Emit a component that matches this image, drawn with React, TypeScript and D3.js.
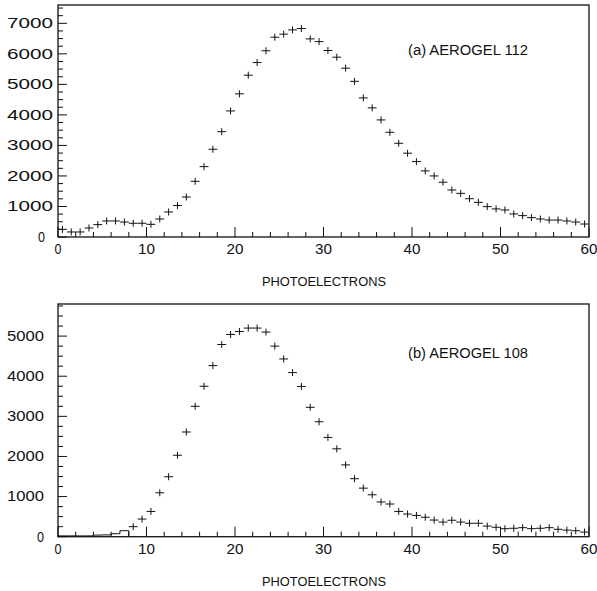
import React from "react";
import * as d3 from "d3";

// ---- data (counts per 1-photoelectron bin, 0..60) ----
const topValues = [
  250, 165, 165, 295, 405, 525, 525, 490, 450, 450,
  415, 590, 820, 1030, 1310, 1825, 2305, 2875, 3450, 4130,
  4690, 5300, 5715, 6100, 6545, 6645, 6785, 6830, 6490, 6400,
  6110, 5890, 5530, 5100, 4555, 4230, 3835, 3430, 3070, 2745,
  2470, 2165, 2000, 1795, 1540, 1430, 1255, 1135, 995, 920,
  885, 755, 700, 635, 590, 555, 555, 525, 490, 425,
];
const bottomValues = [
  20, 20, 20, 20, 40, 45, 75, 150, 250, 440,
  630, 1095, 1495, 2030, 2610, 3250, 3750, 4265, 4790, 5040,
  5115, 5200, 5200, 5100, 4750, 4430, 4090, 3745, 3225, 2865,
  2475, 2190, 1790, 1445, 1210, 1045, 865, 815, 630, 565,
  530, 485, 415, 365, 410, 365, 335, 335, 265, 235,
  200, 210, 225, 200, 210, 225, 185, 165, 150, 115,
];
const xTickLabels = [0, 10, 20, 30, 40, 50, 60];
const topYTickLabels = [0, 1000, 2000, 3000, 4000, 5000, 6000, 7000];
const bottomYTickLabels = [0, 1000, 2000, 3000, 4000, 5000];
const xTitle = "PHOTOELECTRONS";
const topLabel = "(a) AEROGEL 112";
const bottomLabel = "(b) AEROGEL 108";
const bottomHistBins = 8; // first bins drawn as plain histogram

const INK = "#111";
const FONT = "'Liberation Sans', Arial, sans-serif";

type PanelProps = {
  values: number[];
  yMax: number;
  top: number;
  bottom: number;
  yTicks: number[];
  label: string;
  labelY: number;
  yLabelEnd: number;
  zeroLabelEnd: number;
  yLabelWidth: number;
  xLabelY: number;
  titleY: number;
  histBins: number;
};

function Panel(p: PanelProps) {
  const left = 58;
  const right = 589;
  const x = d3.scaleLinear().domain([0, 60]).range([left, right]);
  const y = d3.scaleLinear().domain([0, p.yMax]).range([p.bottom, p.top]);
  const minorX = d3.range(0, 61, 2);
  const minorY = d3.range(0, p.yMax, 250);
  const half = 3.5;

  let histPath = "";
  if (p.histBins > 0) {
    const pts: [number, number][] = [[x(0), y(0)]];
    for (let i = 0; i < p.histBins; i++) {
      pts.push([x(i), y(p.values[i])]);
      pts.push([x(i + 1), y(p.values[i])]);
    }
    pts.push([x(p.histBins), y(0)]);
    histPath = d3.line()(pts) || "";
  }

  return (
    <g>
      {/* frame */}
      <rect x={left} y={p.top} width={right - left} height={p.bottom - p.top}
        fill="none" stroke={INK} strokeWidth={1.3} />
      {/* x ticks */}
      {minorX.map((v) => {
        const major = v % 10 === 0;
        return (
          <line key={"xt" + v} x1={x(v)} x2={x(v)} y1={p.bottom} y2={p.bottom - (major ? 10 : 5)}
            stroke={INK} strokeWidth={1} />
        );
      })}
      {/* y ticks */}
      {minorY.map((v) => {
        const major = v % 1000 === 0;
        return (
          <line key={"yt" + v} x1={left} x2={left + (major ? 9 : 5)} y1={y(v)} y2={y(v)}
            stroke={INK} strokeWidth={1} />
        );
      })}
      {/* x labels */}
      {xTickLabels.map((v) => (
        <text key={"xl" + v} x={x(v)} y={p.xLabelY} textAnchor="middle" dy="0.35em"
          fontFamily={FONT} fontSize={14} fill={INK}
          textLength={String(v).length === 1 ? 7 : 17} lengthAdjust="spacingAndGlyphs">
          {v}
        </text>
      ))}
      {/* y labels */}
      {p.yTicks.map((v) => {
        const s = String(v);
        const w = s.length === 1 ? 7 : p.yLabelWidth;
        const end = v === 0 ? p.zeroLabelEnd : p.yLabelEnd;
        return (
          <text key={"yl" + v} x={end - w} y={y(v)} dy="0.35em"
            fontFamily={FONT} fontSize={14} fill={INK}
            textLength={w} lengthAdjust="spacingAndGlyphs">
            {s}
          </text>
        );
      })}
      {/* histogram part */}
      {histPath && <path d={histPath} fill="none" stroke={INK} strokeWidth={1} />}
      {/* crosses */}
      {p.values.map((v, i) => {
        if (i < p.histBins) return null;
        const cx = x(i + 0.5);
        const cy = y(v);
        return (
          <g key={"c" + i}>
            <line x1={x(i)} x2={x(i + 1)} y1={cy} y2={cy} stroke={INK} strokeWidth={1} />
            <line x1={cx} x2={cx} y1={cy - half} y2={cy + half} stroke={INK} strokeWidth={1} />
          </g>
        );
      })}
      {/* annotation */}
      <text x={408} y={p.labelY} dy="0.35em" fontFamily={FONT} fontSize={14} fill={INK}
        textLength={120} lengthAdjust="spacingAndGlyphs">
        {p.label}
      </text>
      {/* axis title */}
      <text x={324} y={p.titleY} dy="0.35em" textAnchor="middle" fontFamily={FONT}
        fontSize={12} fill={INK} textLength={124} lengthAdjust="spacingAndGlyphs">
        {xTitle}
      </text>
    </g>
  );
}

export default function App() {
  return (
    <svg width={597} height={591} viewBox="0 0 597 591"
      style={{ position: "absolute", left: 0, top: 0, display: "block", background: "#fff" }}>
      <rect x={0} y={0} width={597} height={591} fill="#fff" />
      <Panel values={topValues} yMax={7600} top={5} bottom={237} yTicks={topYTickLabels}
        label={topLabel} labelY={50} yLabelEnd={53} zeroLabelEnd={45} yLabelWidth={46}
        xLabelY={249} titleY={282} histBins={0} />
      <Panel values={bottomValues} yMax={5800} top={304} bottom={536.7} yTicks={bottomYTickLabels}
        label={bottomLabel} labelY={353} yLabelEnd={44} zeroLabelEnd={44} yLabelWidth={37}
        xLabelY={549} titleY={582} histBins={bottomHistBins} />
    </svg>
  );
}
